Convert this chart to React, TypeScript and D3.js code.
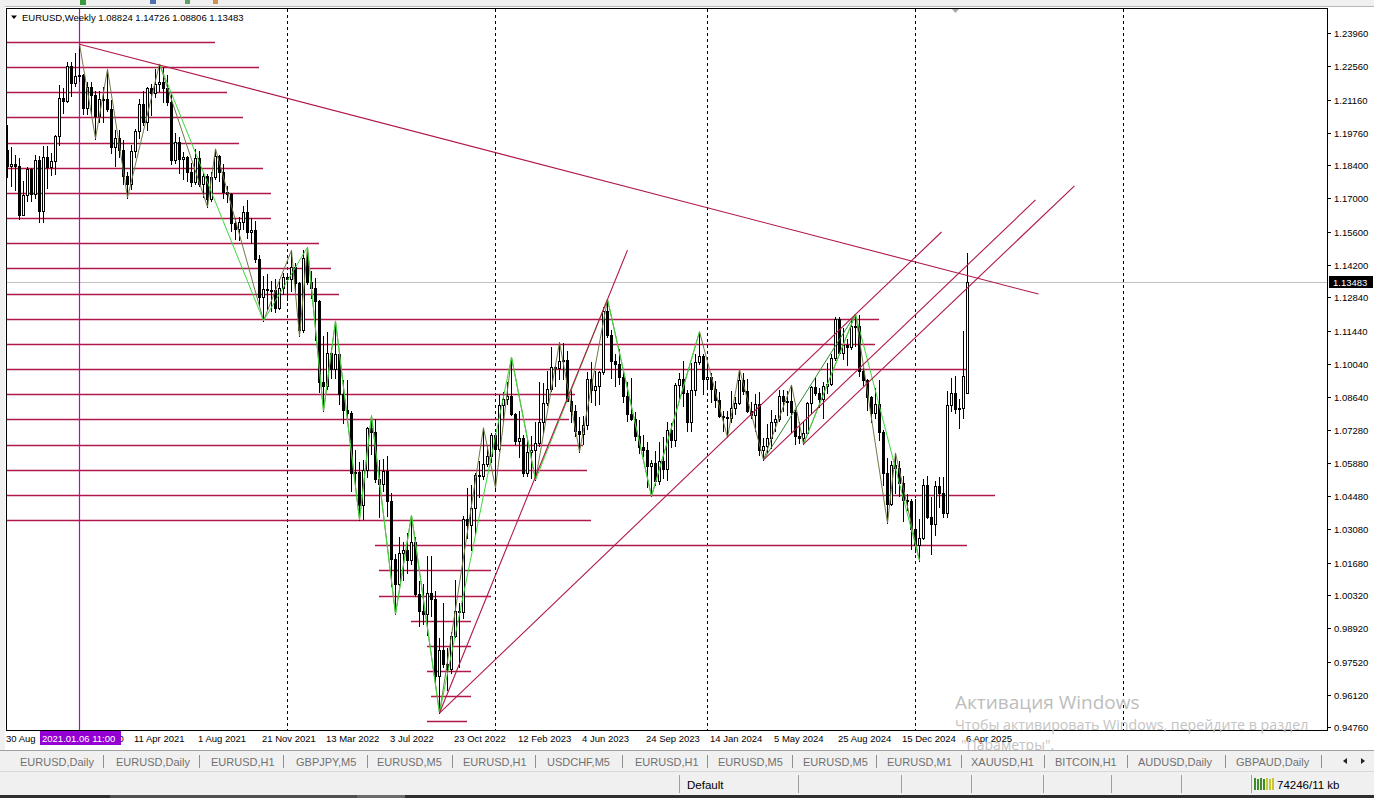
import React, { useEffect } from 'react';
import * as d3 from 'd3';

// Weekly EURUSD bars, index 0 = week of 30 Aug 2020 ... index 240 = week of 6 Apr 2025
const opens = [
  1.1905,1.1838,1.1846,1.1838,1.1631,1.1714,1.1826,1.1717,1.1860,1.1647,
  1.1875,1.1834,1.1857,1.1962,1.2121,1.2110,1.2256,1.2187,1.2215,1.2220,
  1.2082,1.2170,1.2136,1.2046,1.2118,1.2119,1.2075,1.1915,1.1953,1.1905,
  1.1795,1.1761,1.1899,1.1983,1.2097,1.2020,1.2165,1.2145,1.2180,1.2191,
  1.2166,1.2105,1.1860,1.1936,1.1865,1.1875,1.1810,1.1771,1.1869,1.1761,
  1.1795,1.1697,1.1792,1.1880,1.1813,1.1729,1.1719,1.1596,1.1572,1.1600,
  1.1645,1.1559,1.1568,1.1446,1.1287,1.1318,1.1316,1.1314,1.1239,1.1322,
  1.1369,1.1360,1.1411,1.1345,1.1145,1.1450,1.1349,1.1322,1.1268,1.0930,
  1.0911,1.1050,1.0984,1.1046,1.0876,1.0810,1.0796,1.0545,1.0551,1.0410,
  1.0559,1.0733,1.0720,1.0519,1.0498,1.0555,1.0426,1.0184,1.0080,1.0211,
  1.0220,1.0180,1.0257,1.0036,0.9965,0.9954,1.0040,1.0015,0.9690,0.9802,
  0.9741,0.9722,0.9861,0.9965,0.9960,1.0354,1.0325,1.0399,1.0536,1.0533,
  1.0585,1.0618,1.0705,1.0645,1.0830,1.0856,1.0869,1.0795,1.0680,1.0694,
  1.0546,1.0635,1.0643,1.0670,1.0760,1.0840,1.0900,1.0990,1.0988,1.1017,
  1.1019,1.0849,1.0805,1.0723,1.0708,1.0748,1.0940,1.0893,1.0910,1.0970,
  1.1227,1.1125,1.1016,1.1006,1.0948,1.0871,1.0795,1.0773,1.0700,1.0656,
  1.0643,1.0573,1.0588,1.0510,1.0594,1.0564,1.0728,1.0684,1.0914,1.0942,
  1.0883,1.0762,1.0895,1.1012,1.1038,1.0940,1.0950,1.0897,1.0852,1.0787,
  1.0783,1.0776,1.0820,1.0838,1.0938,1.0889,1.0808,1.0790,1.0837,1.0642,
  1.0657,1.0693,1.0761,1.0771,1.0869,1.0847,1.0848,1.0801,1.0703,1.0693,
  1.0713,1.0841,1.0907,1.0883,1.0857,1.0910,1.0919,1.1029,1.1192,1.1049,
  1.1085,1.1074,1.1163,1.1165,1.0975,1.0937,1.0866,1.0797,1.0834,1.0719,
  1.0544,1.0416,1.0578,1.0567,1.0502,1.0430,1.0427,1.0308,1.0244,1.0272,
  1.0493,1.0362,1.0330,1.0492,1.0461,1.0377,1.0833,1.0880,1.0815,1.0817,
  1.08824,
];
const highs = [
  1.2011,1.1917,1.1883,1.1872,1.1773,1.1831,1.1829,1.1881,1.1879,1.1920,
  1.1920,1.1892,1.1965,1.2177,1.2164,1.2273,1.2274,1.2310,1.2349,1.2223,
  1.2190,1.2190,1.2150,1.2150,1.2170,1.2243,1.2113,1.1990,1.1990,1.1944,
  1.1810,1.1927,1.1994,1.2117,1.2150,1.2167,1.2181,1.2245,1.2266,1.2254,
  1.2218,1.2145,1.1975,1.1960,1.1895,1.1880,1.1851,1.1909,1.1900,1.1806,
  1.1805,1.1810,1.1909,1.1885,1.1847,1.1751,1.1722,1.1620,1.1624,1.1668,
  1.1692,1.1616,1.1607,1.1464,1.1374,1.1383,1.1355,1.1360,1.1360,1.1386,
  1.1385,1.1482,1.1430,1.1350,1.1483,1.1495,1.1395,1.1366,1.1275,1.1121,
  1.1138,1.1070,1.1185,1.1054,1.0935,1.0936,1.0806,1.0642,1.0590,1.0600,
  1.0737,1.0787,1.0774,1.0601,1.0606,1.0615,1.0463,1.0204,1.0278,1.0255,
  1.0293,1.0368,1.0275,1.0090,1.0079,1.0198,1.0197,1.0050,0.9853,0.9999,
  0.9809,0.9876,1.0094,1.0000,1.0365,1.0481,1.0497,1.0545,1.0594,1.0736,
  1.0658,1.0714,1.0713,1.0875,1.0888,1.0929,1.1033,1.0797,1.0805,1.0706,
  1.0691,1.0700,1.0760,1.0930,1.0925,1.0973,1.1075,1.1000,1.1095,1.1092,
  1.1058,1.0900,1.0830,1.0779,1.0787,1.0971,1.1012,1.0976,1.0975,1.1245,
  1.1276,1.1149,1.1046,1.1065,1.0972,1.0930,1.0945,1.0800,1.0768,1.0705,
  1.0675,1.0600,1.0640,1.0676,1.0695,1.0760,1.0755,1.0925,1.0965,1.1017,
  1.0895,1.1009,1.1045,1.1140,1.1046,1.0998,1.0968,1.0933,1.0888,1.0806,
  1.0805,1.0889,1.0865,1.0981,1.0964,1.0942,1.0843,1.0876,1.0885,1.0691,
  1.0753,1.0812,1.0790,1.0895,1.0895,1.0889,1.0916,1.0812,1.0762,1.0760,
  1.0844,1.0910,1.0948,1.0903,1.0927,1.1008,1.1046,1.1201,1.1202,1.1155,
  1.1108,1.1189,1.1214,1.1209,1.0987,1.0940,1.0871,1.0905,1.0937,1.0727,
  1.0609,1.0597,1.0630,1.0595,1.0533,1.0458,1.0437,1.0437,1.0353,1.0522,
  1.0533,1.0443,1.0513,1.0528,1.0529,1.0889,1.0947,1.0955,1.0858,1.1144,
  1.14726,
];
const lows = [
  1.1789,1.1753,1.1737,1.1612,1.1629,1.1690,1.1689,1.1702,1.1603,1.1603,
  1.1745,1.1800,1.1801,1.1925,1.2058,1.2105,1.2130,1.2171,1.2193,1.2054,
  1.2054,1.2057,1.1952,1.2023,1.2022,1.2070,1.1893,1.1835,1.1873,1.1762,
  1.1704,1.1739,1.1873,1.1956,1.2010,1.1986,1.2051,1.2125,1.2150,1.2105,
  1.2093,1.1847,1.1848,1.1807,1.1781,1.1772,1.1751,1.1760,1.1751,1.1706,
  1.1664,1.1690,1.1780,1.1773,1.1700,1.1684,1.1563,1.1529,1.1524,1.1571,
  1.1535,1.1513,1.1432,1.1250,1.1186,1.1235,1.1227,1.1222,1.1235,1.1300,
  1.1272,1.1313,1.1300,1.1121,1.1140,1.1340,1.1280,1.1106,1.0885,1.0806,
  1.0900,1.0945,1.0945,1.0837,1.0757,1.0765,1.0470,1.0482,1.0349,1.0350,
  1.0530,1.0627,1.0508,1.0359,1.0470,1.0365,1.0071,0.9952,1.0075,1.0096,
  1.0123,1.0161,1.0030,0.9900,0.9910,0.9864,0.9944,0.9668,0.9536,0.9730,
  0.9631,0.9705,0.9855,0.9730,0.9935,1.0272,1.0223,1.0290,1.0443,1.0520,
  1.0573,1.0590,1.0483,1.0636,1.0766,1.0835,1.0791,1.0669,1.0612,1.0533,
  1.0533,1.0524,1.0516,1.0660,1.0713,1.0830,1.0890,1.0910,1.0942,1.0940,
  1.0848,1.0760,1.0700,1.0635,1.0667,1.0730,1.0843,1.0833,1.0834,1.0961,
  1.1117,1.0943,1.0912,1.0920,1.0845,1.0765,1.0768,1.0686,1.0631,1.0617,
  1.0488,1.0448,1.0495,1.0500,1.0525,1.0516,1.0656,1.0660,1.0852,1.0828,
  1.0723,1.0723,1.0875,1.1002,1.0877,1.0912,1.0844,1.0821,1.0779,1.0722,
  1.0695,1.0761,1.0795,1.0834,1.0878,1.0802,1.0775,1.0724,1.0622,1.0601,
  1.0635,1.0650,1.0724,1.0764,1.0805,1.0788,1.0720,1.0668,1.0671,1.0667,
  1.0710,1.0796,1.0873,1.0825,1.0777,1.0881,1.0916,1.1021,1.1047,1.1026,
  1.0998,1.1069,1.1081,1.0954,1.0915,1.0811,1.0761,1.0776,1.0683,1.0496,
  1.0335,1.0410,1.0460,1.0450,1.0344,1.0388,1.0226,1.0214,1.0177,1.0266,
  1.0358,1.0205,1.0285,1.0401,1.0359,1.0360,1.0806,1.0797,1.0733,1.0777,
  1.08806,
];
const closes = [
  1.1838,1.1846,1.1838,1.1631,1.1714,1.1826,1.1717,1.1860,1.1647,1.1875,
  1.1834,1.1857,1.1962,1.2121,1.2110,1.2256,1.2187,1.2215,1.2220,1.2082,
  1.2170,1.2136,1.2046,1.2118,1.2119,1.2075,1.1915,1.1953,1.1905,1.1795,
  1.1761,1.1899,1.1983,1.2097,1.2020,1.2165,1.2145,1.2180,1.2191,1.2166,
  1.2105,1.1860,1.1936,1.1865,1.1875,1.1810,1.1771,1.1869,1.1761,1.1795,
  1.1697,1.1792,1.1880,1.1813,1.1729,1.1719,1.1596,1.1572,1.1600,1.1645,
  1.1559,1.1568,1.1446,1.1287,1.1318,1.1316,1.1314,1.1239,1.1322,1.1369,
  1.1360,1.1411,1.1345,1.1145,1.1450,1.1349,1.1322,1.1268,1.0930,1.0911,
  1.1050,1.0984,1.1046,1.0876,1.0810,1.0796,1.0545,1.0551,1.0410,1.0559,
  1.0733,1.0720,1.0519,1.0498,1.0555,1.0426,1.0184,1.0080,1.0211,1.0220,
  1.0180,1.0257,1.0036,0.9965,0.9954,1.0040,1.0015,0.9690,0.9802,0.9741,
  0.9722,0.9861,0.9965,0.9960,1.0354,1.0325,1.0399,1.0536,1.0533,1.0585,
  1.0618,1.0705,1.0645,1.0830,1.0856,1.0869,1.0795,1.0680,1.0694,1.0546,
  1.0635,1.0643,1.0670,1.0760,1.0840,1.0900,1.0990,1.0988,1.1017,1.1019,
  1.0849,1.0805,1.0723,1.0708,1.0748,1.0940,1.0893,1.0910,1.0970,1.1227,
  1.1125,1.1016,1.1006,1.0948,1.0871,1.0795,1.0773,1.0700,1.0656,1.0643,
  1.0573,1.0588,1.0510,1.0594,1.0564,1.0728,1.0684,1.0914,1.0942,1.0883,
  1.0762,1.0895,1.1012,1.1038,1.0940,1.0950,1.0897,1.0852,1.0787,1.0783,
  1.0776,1.0820,1.0838,1.0938,1.0889,1.0808,1.0790,1.0837,1.0642,1.0657,
  1.0693,1.0761,1.0771,1.0869,1.0847,1.0848,1.0801,1.0703,1.0693,1.0713,
  1.0841,1.0907,1.0883,1.0857,1.0910,1.0919,1.1029,1.1192,1.1049,1.1085,
  1.1074,1.1163,1.1165,1.0975,1.0937,1.0866,1.0797,1.0834,1.0719,1.0544,
  1.0416,1.0578,1.0567,1.0502,1.0430,1.0427,1.0308,1.0244,1.0272,1.0493,
  1.0362,1.0330,1.0492,1.0461,1.0377,1.0833,1.0880,1.0815,1.0817,1.0955,
  1.13483,
];

// price-axis labels
const priceTicks = ['1.23960','1.22560','1.21160','1.19760','1.18400','1.17000','1.15600','1.14200','1.12840','1.11440','1.10040','1.08640','1.07280','1.05880','1.04480','1.03080','1.01680','1.00320','0.98920','0.97520','0.96120','0.94760'];
// time-axis labels (bar index -> text)
const timeLabelBars = [0,16,32,48,64,80,96,112,128,144,160,176,192,208,224,240];
const timeLabels = ['30 Aug 2020','20 Dec 2020','11 Apr 2021','1 Aug 2021','21 Nov 2021','13 Mar 2022','3 Jul 2022','23 Oct 2022','12 Feb 2023','4 Jun 2023','24 Sep 2023','14 Jan 2024','5 May 2024','25 Aug 2024','15 Dec 2024','6 Apr 2025'];
// period separators (first weekly bar of each year)
const yearSeparatorBars = [70,122,175,227,279];

// horizontal levels: price, first bar, last bar
const levelPrices = [1.2358,1.2253,1.2148,1.2043,1.1933,1.1828,1.1723,1.1618,1.1513,1.1408,1.1298,1.1193,1.1088,1.0983,1.0878,1.0773,1.0663,1.0558,1.0453,1.0348,1.0243,1.0137,1.0028,0.9923,0.9818,0.9713,0.9608,0.9502];
const levelStartBars = [-3,-3,-3,-3,-3,-3,-3,-3,-3,-3,-3,-3,-3,-3,-3,-3,-3,-3,-3,-3,92,93,93,101,105,105,106,105];
const levelEndBars = [52,63,55,59,58,64,66,66,78,81,83,218,217,240,142,140.5,144,145,247,146,240,121,121,116,116,116,116,115];

// trend lines
const trendStartBars = [18,108,108,189,199];
const trendStartPrices = [1.2349,0.9536,0.9536,1.0601,1.0667];
const trendEndBars = [257.75,155,233.5,257,266.75];
const trendEndPrices = [1.1298,1.1483,1.1559,1.1694,1.1753];

// zigzag swing points (bar index + H/L)
const zzFineBars = [18,22,25,30,38,50,52,64,71,73,75,79,82,88,91,97,101,108,119,122,126,132,138,143,150,161,173,180,183,189,196,199,212,220,222,228];
const zzFineKinds = ['H','L','H','L','H','L','H','L','H','L','H','L','H','L','H','L','H','L','H','L','H','L','H','L','H','L','H','L','H','L','H','L','H','L','H','L'];
const zzBrightBars = [38,64,75,79,82,88,91,97,101,108,126,132,150,161,173];
const zzBrightKinds = ['H','L','H','L','H','L','H','L','H','L','H','L','H','L','H'];
const zzBright2Bars = [199,212,228];
const zzBright2Kinds = ['L','H','L'];
const zzDarkBars = [189,212];
const zzDarkKinds = ['L','H'];

const tabLabels = ['EURUSD,Daily','EURUSD,Daily','EURUSD,H1','GBPJPY,M5','EURUSD,M5','EURUSD,H1','USDCHF,M5','EURUSD,H1','EURUSD,M5','EURUSD,M5','EURUSD,M1','XAUUSD,H1','BITCOIN,H1','AUDUSD,Daily','GBPAUD,Daily'];
const tabX = [20,116,211,296,377,463,547,635,718,803,887,971,1055,1138,1236];
const tabSepX = [103,199,283,367,452,535,622,707,792,876,961,1044,1127,1225,1321];
const statusSepX = [679,798,901,971,1043,1111,1181,1251];

const FONT = 'Liberation Sans, Arial, sans-serif';
const LEVEL = '#B01848';

export default function App() {
  useEffect(() => {
    document.body.style.margin = '0';
    document.body.style.overflow = 'hidden';
  }, []);

  const L = 7, R = 1327, T = 9, B = 730;
  const x = d3.scaleLinear().domain([0, 240]).range([7, 967]);
  const y = d3.scaleLinear().domain([0.9476, 1.2396]).range([727.3, 33]);
  const px = (i: number) => Math.round(x(i));
  const py = (p: number) => Math.round(y(p));
  const line = d3.line<[number, number]>().x(d => d[0]).y(d => d[1]);
  const zz = (bars: number[], kinds: string[]) =>
    line(bars.map((b, k) => [px(b) + 0.5, y(kinds[k] === 'H' ? highs[b] : lows[b])] as [number, number])) || '';

  const candles = closes.map((c, i) => {
    const o = opens[i], h = highs[i], l = lows[i];
    const cx = px(i);
    const top = py(Math.max(o, c));
    const bot = py(Math.min(o, c));
    const bull = c >= o;
    return (
      <g key={i}>
        <line x1={cx + 0.5} x2={cx + 0.5} y1={py(h)} y2={py(l) + 1} stroke="#000" strokeWidth={1} />
        {bull ? (
          <rect x={cx - 0.5} y={top + 0.5} width={2} height={Math.max(bot - top, 1)} fill="#fff" stroke="#000" strokeWidth={1} />
        ) : (
          <rect x={cx - 1} y={top} width={3} height={Math.max(bot - top, 1) + 1} fill="#000" />
        )}
      </g>
    );
  });

  return (
    <svg width={1374} height={798} style={{ position: 'absolute', left: 0, top: 0, background: '#fff' }} fontFamily={FONT}>
      <defs>
        <clipPath id="plot"><rect x={L} y={T} width={R - L} height={B - T} /></clipPath>
        <clipPath id="afterbox"><rect x={121} y={725} width={60} height={25} /></clipPath>
      </defs>
      {/* window chrome */}
      <rect x={0} y={0} width={1374} height={7} fill="#F0F0F0" />
      <line x1={0} x2={1374} y1={6.5} y2={6.5} stroke="#B8B8B8" />
      <rect x={80} y={0} width={6} height={5} fill="#3A9A3A" />
      <rect x={150} y={0} width={6} height={4} fill="#5070B0" />
      <rect x={185} y={0} width={5} height={4} fill="#60A060" />
      <rect x={213} y={0} width={5} height={4} fill="#D09050" />
      <rect x={0} y={0} width={5} height={750} fill="#F0F0F0" />

      {/* plot */}
      <g clipPath="url(#plot)">
        {yearSeparatorBars.map((b, k) => (
          <line key={k} x1={px(b) + 0.5} x2={px(b) + 0.5} y1={T} y2={B} stroke="#000" strokeDasharray="3,3" />
        ))}
        <line x1={L} x2={R} y1={py(1.13483) + 0.5} y2={py(1.13483) + 0.5} stroke="#C0C0C0" />
        {levelPrices.map((p, k) => (
          <line key={k} x1={x(levelStartBars[k])} x2={x(levelEndBars[k])} y1={py(p) + 0.5} y2={py(p) + 0.5} stroke={LEVEL} strokeWidth={1.3} />
        ))}
        <line x1={px(18) + 0.5} x2={px(18) + 0.5} y1={T} y2={B} stroke="#A010D8" strokeWidth={1.2} />
        {candles}
        <path d={zz(zzFineBars, zzFineKinds)} fill="none" stroke="#6E7B48" strokeWidth={1} />
        <path d={zz(zzDarkBars, zzDarkKinds)} fill="none" stroke="#2E8B2E" strokeWidth={1} />
        <path d={zz(zzBrightBars, zzBrightKinds)} fill="none" stroke="#3CD83C" strokeWidth={1} />
        <path d={zz(zzBright2Bars, zzBright2Kinds)} fill="none" stroke="#3CD83C" strokeWidth={1} />
        {trendStartBars.map((b, k) => (
          <line key={k} x1={x(b) + 0.5} y1={y(trendStartPrices[k])} x2={x(trendEndBars[k]) + 0.5} y2={y(trendEndPrices[k])} stroke={LEVEL} strokeWidth={1.1} />
        ))}
        <path d="M952,9 L959,9 L955.5,13 Z" fill="#A8A8A8" />
      </g>
      <rect x={L - 0.5} y={T - 0.5} width={R - L + 1} height={B - T + 1} fill="none" stroke="#000" />

      {/* header */}
      <path d="M11,15.5 L17,15.5 L14,19 Z" fill="#000" />
      <text x={22} y={20.5} fontSize={9.5} fill="#000">EURUSD,Weekly  1.08824 1.14726 1.08806 1.13483</text>

      {/* price axis */}
      {priceTicks.map((t, k) => (
        <g key={k}>
          <line x1={R} x2={R + 4} y1={py(+t) + 0.5} y2={py(+t) + 0.5} stroke="#000" />
          <text x={1334} y={py(+t) + 3.5} fontSize={9.5} fill="#000">{t}</text>
        </g>
      ))}
      <rect x={1329} y={py(1.13483) - 6} width={44} height={12} fill="#000" />
      <text x={1333} y={py(1.13483) + 3.5} fontSize={9.5} fill="#fff">1.13483</text>

      {/* time axis */}
      {timeLabelBars.map((b, k) => (
        k === 0 ? (
          <text key={k} x={px(b) - 1} y={742} fontSize={9.5} fill="#000">{timeLabels[k].slice(0, 6)}</text>
        ) : k === 1 ? (
          <text key={k} x={px(b) - 1} y={742} fontSize={9.5} fill="#000" clipPath="url(#afterbox)">{timeLabels[k]}</text>
        ) : (
          <text key={k} x={px(b) - 1} y={742} fontSize={9.5} fill="#000">{timeLabels[k]}</text>
        )
      ))}
      <rect x={40} y={731} width={81} height={14} fill="#9400D3" />
      <text x={42} y={742} fontSize={9.5} fill="#fff">2021.01.06 11:00</text>

      {/* Windows watermark */}
      <text x={955} y={709} fontSize={19} fill="#BDBDBD" fontFamily="Open Sans, Noto Sans, sans-serif">Активация Windows</text>
      <text x={955} y={730} fontSize={14.2} fill="#C4C4C4" fontFamily="Open Sans, Noto Sans, sans-serif">Чтобы активировать Windows, перейдите в раздел</text>
      <text x={961} y={750} fontSize={14} fill="#C4C4C4" fontFamily="Open Sans, Noto Sans, sans-serif">"Параметры".</text>

      {/* tabs */}
      <rect x={0} y={751} width={1374} height={20} fill="#F0F0F0" />
      <line x1={0} x2={1374} y1={750.5} y2={750.5} stroke="#A0A0A0" />
      {tabLabels.map((t, k) => (
        <text key={k} x={tabX[k]} y={766} fontSize={11} fill="#707070">{t}</text>
      ))}
      {tabSepX.map((sx, k) => (
        <line key={k} x1={sx + 0.5} x2={sx + 0.5} y1={755} y2={768} stroke="#909090" />
      ))}
      <path d="M1343,761 L1347,758 L1347,764 Z" fill="#222" />
      <path d="M1361,758 L1365,761 L1361,764 Z" fill="#222" />

      {/* status bar */}
      <rect x={0} y={772} width={1374} height={23} fill="#F0F0F0" />
      <line x1={0} x2={1374} y1={771.5} y2={771.5} stroke="#D8D8D8" />
      {statusSepX.map((sx, k) => (
        <line key={k} x1={sx + 0.5} x2={sx + 0.5} y1={775} y2={793} stroke="#A0A0A0" />
      ))}
      <text x={687} y={789} fontSize={11.5} fill="#000">Default</text>
      {[0, 1, 2, 3, 4, 5, 6].map(k => (
        <rect key={k} x={1254 + k * 3} y={778 + (k % 2)} width={2} height={12 - (k % 2)} fill={k < 4 ? '#3C8C28' : '#C8C832'} />
      ))}
      <text x={1277} y={789} fontSize={11.5} fill="#000">74246/11 kb</text>
      <rect x={0} y={795} width={1374} height={3} fill="#2E2E2E" />
      <rect x={110} y={795} width={247} height={3} fill="#505050" />
      <rect x={357} y={795} width={48} height={3} fill="#6A6A6A" />
    </svg>
  );
}
